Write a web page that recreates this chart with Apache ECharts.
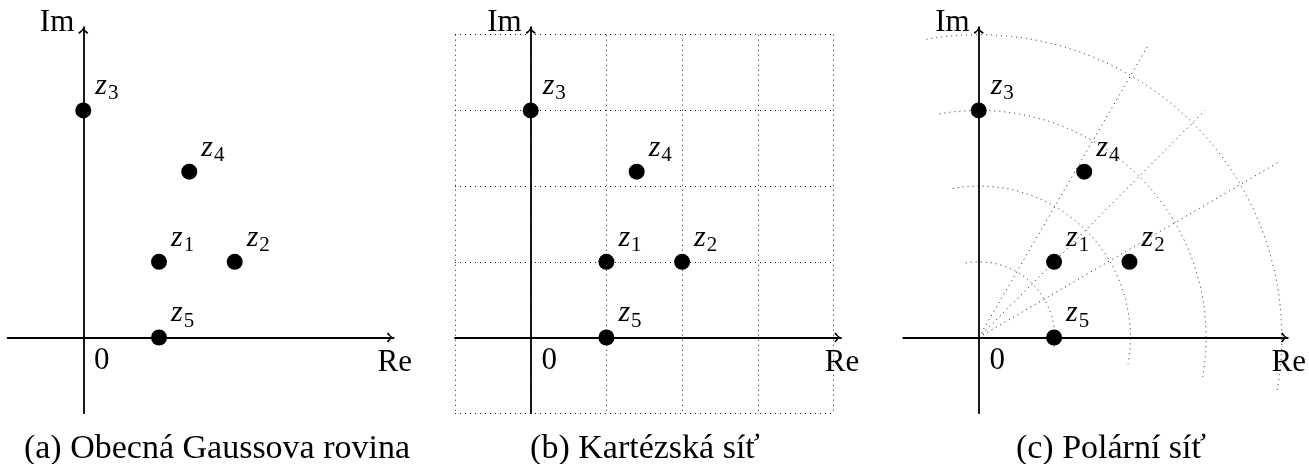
<!DOCTYPE html>
<html><head><meta charset="utf-8">
<script src="https://cdn.jsdelivr.net/npm/echarts@6/dist/echarts.min.js"></script>
<style>html,body{margin:0;padding:0;background:#fff}#c{width:1309px;height:464px}</style>
</head><body><div id="c"></div>
<script>
// ---- data ----
const pointNames = ['1', '2', '3', '4', '5'];
const pointRe = [1, 2, 0, 1.4, 1];
const pointIm = [1, 1, 3, 2.19, 0];
const axisMin = -1, axisMax = 4.1;
const gridMin = -1, gridMax = 4, gridStep = 1;
const polarMaxRadius = 4, polarStep = 1;
const arcStartAngle = 100, arcEndAngle = -10;
const rayEndRe = [4.0, 3.0, 2.26];
const rayEndIm = [2.33, 3.0, 3.88];
const captions = ['(a) Obecná Gaussova rovina', '(b) Kartézská síť', '(c) Polární síť'];
const originLabel = '0';
const reName = 'Re', imName = 'Im';

// ---- layout ----
const U = 75.7;
const OX = [83.3, 530.7, 979];
const OY = 337.5;
const capX = [217, 645, 1111], capY = 449;
const F = 'Liberation Serif';
const DOT = '#1a1a1a';
const ARROW = 'path://M50,0 Q62,32 100,54 L90,68 Q60,46 50,26 Q40,46 10,68 L0,54 Q38,32 50,0 Z';

const grids = [], xAxes = [], yAxes = [], series = [];
for (let i = 0; i < 3; i++) {
  grids.push({ left: OX[i] + axisMin * U, top: OY - axisMax * U, width: (axisMax - axisMin) * U, height: (axisMax - axisMin) * U, containLabel: false });
  const line = { onZero: true, symbol: ['none', ARROW], symbolSize: [10, 6.8], symbolOffset: [0, -3.4], lineStyle: { color: '#000', width: 1.8 } };
  xAxes.push({ gridIndex: i, type: 'value', min: axisMin, max: axisMax, name: reName, nameLocation: 'end', nameGap: 1,
    nameTextStyle: { fontFamily: F, fontSize: 31, color: '#000', align: 'center', verticalAlign: 'top', padding: [10, 0, 0, 0] },
    axisLine: line, axisTick: { show: false }, axisLabel: { show: false }, splitLine: { show: false } });
  yAxes.push({ gridIndex: i, type: 'value', min: axisMin, max: axisMax, name: imName, nameLocation: 'end', nameGap: 4,
    nameTextStyle: { fontFamily: F, fontSize: 31, color: '#000', align: 'right', verticalAlign: 'middle', padding: [0, 9, 0, 0] },
    axisLine: line, axisTick: { show: false }, axisLabel: { show: false }, splitLine: { show: false } });
}
// cartesian grid lines for panel (b)
grids.push({ left: OX[1] + gridMin * U, top: OY - gridMax * U, width: (gridMax - gridMin) * U, height: (gridMax - gridMin) * U, containLabel: false });
const gl = { show: true, lineStyle: { color: DOT, width: 1, type: [1, 4] } };
xAxes.push({ gridIndex: 3, type: 'value', min: gridMin, max: gridMax, interval: gridStep, axisLine: { show: false }, axisTick: { show: false }, axisLabel: { show: false }, splitLine: gl });
yAxes.push({ gridIndex: 3, type: 'value', min: gridMin, max: gridMax, interval: gridStep, axisLine: { show: false }, axisTick: { show: false }, axisLabel: { show: false }, splitLine: gl });

for (let i = 0; i < 3; i++) {
  series.push({ type: 'scatter', xAxisIndex: i, yAxisIndex: i, silent: true, symbolSize: 1, itemStyle: { color: 'rgba(0,0,0,0)', opacity: 1 },
    data: [[0, 0]], z: 3,
    label: { show: true, formatter: originLabel, position: [19, 24], align: 'center', verticalAlign: 'middle', fontFamily: F, fontSize: 31, color: '#000' } });
  series.push({ type: 'scatter', xAxisIndex: i, yAxisIndex: i, silent: true, symbolSize: 16, itemStyle: { color: '#000', opacity: 1 }, z: 5,
    data: pointRe.map((x, k) => ({ name: pointNames[k], value: [x, pointIm[k]] })),
    label: { show: true, position: [20, 2], align: 'left', verticalAlign: 'bottom', color: '#000',
      formatter: p => '{z|z}{s|' + p.name + '}',
      rich: {
        z: { fontFamily: F, fontStyle: 'italic', fontSize: 30, color: '#000', verticalAlign: 'bottom', padding: [0, 1, 3, 0] },
        s: { fontFamily: F, fontSize: 21, color: '#000', verticalAlign: 'bottom' }
      } } });
}
// rays for panel (c)
series.push({ type: 'lines', coordinateSystem: 'cartesian2d', xAxisIndex: 2, yAxisIndex: 2, silent: true, z: 1,
  lineStyle: { color: DOT, width: 1, type: [1, 4], opacity: 1, curveness: 0 },
  data: rayEndRe.map((x, k) => ({ coords: [[0, 0], [x, rayEndIm[k]]] })) });

const option = {
  animation: false,
  backgroundColor: '#fff',
  grid: grids, xAxis: xAxes, yAxis: yAxes,
  polar: [{ center: [OX[2], OY], radius: polarMaxRadius * U }],
  angleAxis: [{ polarIndex: 0, type: 'value', min: 0, max: arcStartAngle - arcEndAngle, startAngle: arcStartAngle, endAngle: arcEndAngle, clockwise: true,
    axisLine: { show: false }, axisTick: { show: false }, axisLabel: { show: false }, splitLine: { show: false } }],
  radiusAxis: [{ polarIndex: 0, type: 'value', min: 0, max: polarMaxRadius, interval: polarStep,
    axisLine: { show: false }, axisTick: { show: false }, axisLabel: { show: false },
    splitLine: { show: true, lineStyle: { color: ['rgba(0,0,0,0)', DOT, DOT, DOT, DOT], width: 1, type: [1, 4] } } }],
  graphic: captions.map((t, i) => ({ type: 'text', x: capX[i], y: capY, silent: true,
    style: { text: t, fontFamily: F, fontSize: 34, fill: '#000', align: 'center', verticalAlign: 'middle', textAlign: 'center', textVerticalAlign: 'middle' } })),
  series: series
};
const chart = echarts.init(document.getElementById('c'), null, { renderer: 'canvas' });
chart.setOption(option);
</script></body></html>
